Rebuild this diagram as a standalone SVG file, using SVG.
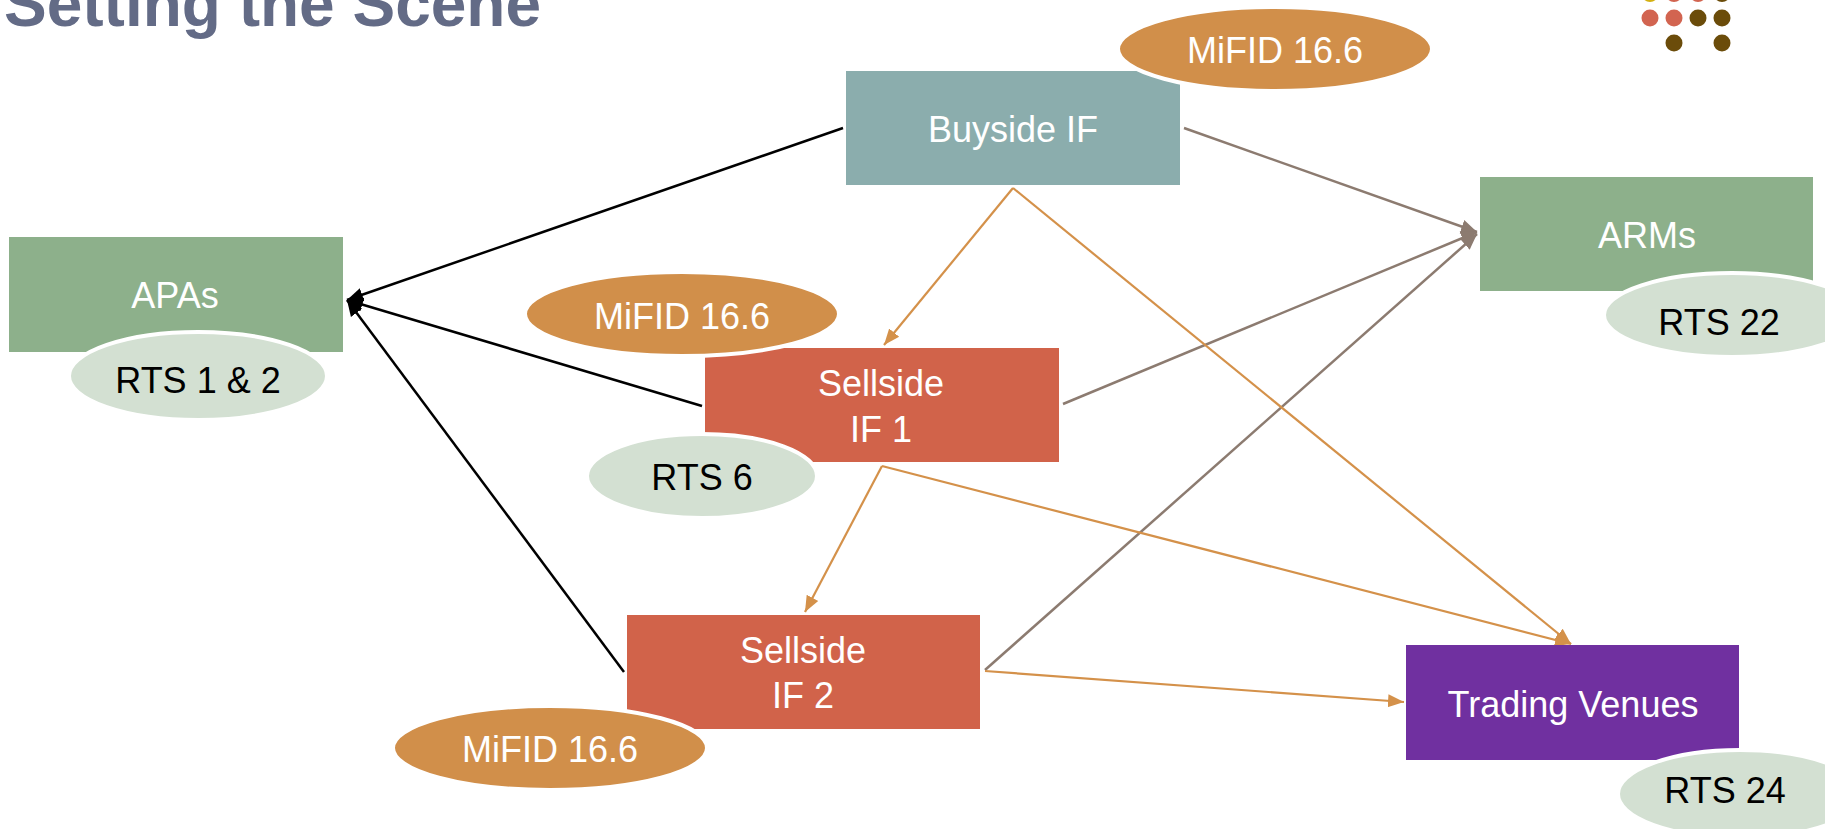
<svg xmlns="http://www.w3.org/2000/svg" width="1825" height="829" viewBox="0 0 1825 829">
<style>
.box{stroke:none}
.lbl{font-family:"Liberation Sans",Arial,sans-serif;font-size:36px;fill:#ffffff;text-anchor:middle}
.rts{font-family:"Liberation Sans",Arial,sans-serif;font-size:36px;fill:#000000;text-anchor:middle}
.mifid{fill:#d18f4a;stroke:#ffffff;stroke-width:4}
.rtsE{fill:#d3e0d2;stroke:#ffffff;stroke-width:4}
.blk{stroke:#000000;stroke-width:2.5;fill:none}
.gry{stroke:#8c7b70;stroke-width:2.5;fill:none}
.org{stroke:#d4914a;stroke-width:2.2;fill:none}
</style>
<defs>
<marker id="mBlk" markerUnits="userSpaceOnUse" markerWidth="18" markerHeight="18" viewBox="0 0 18 18" refX="16" refY="9" orient="auto"><path d="M0,2 L16,9 L0,16 Z" fill="#000000"/></marker>
<marker id="mGry" markerUnits="userSpaceOnUse" markerWidth="18" markerHeight="18" viewBox="0 0 18 18" refX="16" refY="9" orient="auto"><path d="M0,2 L16,9 L0,16 Z" fill="#8c7b70"/></marker>
<marker id="mOrg" markerUnits="userSpaceOnUse" markerWidth="18" markerHeight="18" viewBox="0 0 18 18" refX="16" refY="9" orient="auto"><path d="M0,2.5 L16,9 L0,15.5 Z" fill="#d4914a"/></marker>
</defs>
<rect width="1825" height="829" fill="#ffffff"/>
<text x="4" y="26" font-family="Liberation Sans,Arial,sans-serif" font-size="64" font-weight="bold" fill="#636b86">Setting the Scene</text>
<g id="logo-dots">
<circle cx="1650" cy="-6.5" r="8.5" fill="#d4b012"/>
<circle cx="1674" cy="-6.5" r="8.5" fill="#d26450"/>
<circle cx="1698" cy="-6.5" r="8.5" fill="#d26450"/>
<circle cx="1722" cy="-6.5" r="8.5" fill="#6b4c0a"/>
<circle cx="1650" cy="18" r="8.5" fill="#d26450"/>
<circle cx="1674" cy="18" r="8.5" fill="#d26450"/>
<circle cx="1698" cy="18" r="8.5" fill="#6b4c0a"/>
<circle cx="1722" cy="18" r="8.5" fill="#6b4c0a"/>
<circle cx="1674" cy="43" r="8.5" fill="#6b4c0a"/>
<circle cx="1722" cy="43" r="8.5" fill="#6b4c0a"/>
</g>
<g id="connectors">
<line class="blk" x1="843" y1="128" x2="347" y2="300" marker-end="url(#mBlk)"/>
<line class="blk" x1="702" y1="406" x2="347" y2="300" marker-end="url(#mBlk)"/>
<line class="blk" x1="624" y1="672" x2="347" y2="300" marker-end="url(#mBlk)"/>
<line class="gry" x1="1184" y1="128" x2="1477" y2="232" marker-end="url(#mGry)"/>
<line class="gry" x1="1063" y1="404" x2="1477" y2="232" marker-end="url(#mGry)"/>
<line class="gry" x1="985" y1="670" x2="1477" y2="234" marker-end="url(#mGry)"/>
<line class="org" x1="1013" y1="188" x2="884" y2="345" marker-end="url(#mOrg)"/>
<line class="org" x1="1013" y1="188" x2="1571" y2="644" marker-end="url(#mOrg)"/>
<line class="org" x1="882" y1="466" x2="805" y2="612" marker-end="url(#mOrg)"/>
<line class="org" x1="882" y1="466" x2="1571" y2="644" marker-end="url(#mOrg)"/>
<line class="org" x1="985" y1="671" x2="1404" y2="702" marker-end="url(#mOrg)"/>
</g>
<g id="buyside">
<rect class="box" x="846" y="71" width="334" height="114" fill="#8badad"/>
<text class="lbl" x="1013" y="142">Buyside IF</text>
</g>
<g id="mifid-buyside">
<ellipse class="mifid" cx="1275" cy="49" rx="157" ry="42"/>
<text class="lbl" x="1275" y="63">MiFID 16.6</text>
</g>
<g id="apas">
<rect class="box" x="9" y="237" width="334" height="115" fill="#8db08b"/>
<text class="lbl" x="175" y="308">APAs</text>
</g>
<g id="rts12">
<ellipse class="rtsE" cx="198" cy="376" rx="129" ry="44"/>
<text class="rts" x="198" y="393">RTS 1 &amp; 2</text>
</g>
<g id="arms">
<rect class="box" x="1480" y="177" width="333" height="114" fill="#8db08b"/>
<text class="lbl" x="1647" y="248">ARMs</text>
</g>
<g id="rts22">
<ellipse class="rtsE" cx="1732" cy="315" rx="128" ry="42"/>
<text class="rts" x="1719" y="335">RTS 22</text>
</g>
<g id="sellside1">
<rect class="box" x="705" y="348" width="354" height="114" fill="#d1634a"/>
<text class="lbl" x="881" y="396">Sellside</text>
<text class="lbl" x="881" y="442">IF 1</text>
</g>
<g id="mifid-sellside1">
<ellipse class="mifid" cx="682" cy="314" rx="157" ry="42"/>
<text class="lbl" x="682" y="329">MiFID 16.6</text>
</g>
<g id="rts6">
<ellipse class="rtsE" cx="702" cy="476" rx="115" ry="42"/>
<text class="rts" x="702" y="490">RTS 6</text>
</g>
<g id="sellside2">
<rect class="box" x="627" y="615" width="353" height="114" fill="#d1634a"/>
<text class="lbl" x="803" y="663">Sellside</text>
<text class="lbl" x="803" y="708">IF 2</text>
</g>
<g id="mifid-sellside2">
<ellipse class="mifid" cx="550" cy="748" rx="157" ry="42"/>
<text class="lbl" x="550" y="762">MiFID 16.6</text>
</g>
<g id="trading-venues">
<rect class="box" x="1406" y="645" width="333" height="115" fill="#7030a0"/>
<text class="lbl" x="1573" y="717">Trading Venues</text>
</g>
<g id="rts24">
<ellipse class="rtsE" cx="1740" cy="794" rx="122" ry="44"/>
<text class="rts" x="1725" y="803">RTS 24</text>
</g>
</svg>
